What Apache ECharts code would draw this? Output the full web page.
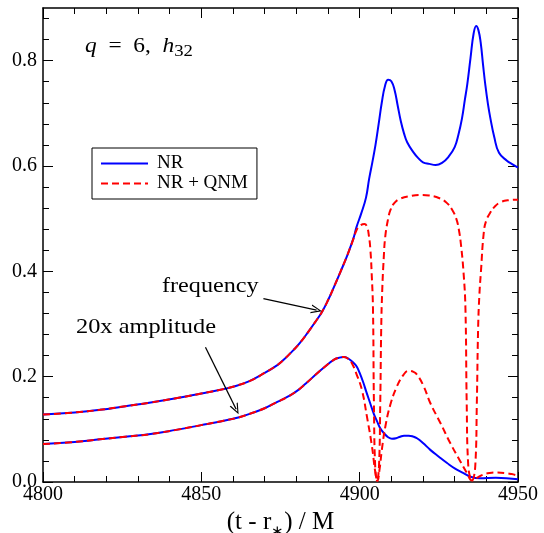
<!DOCTYPE html>
<html><head><meta charset="utf-8">
<script src="https://cdn.jsdelivr.net/npm/echarts@6/dist/echarts.min.js"></script>
<style>html,body{margin:0;padding:0;background:#fff}#c{width:544px;height:533px}</style>
</head><body><div id="c"></div>
<script>
// ---- tick values ----
const xMin = 4800, xMax = 4950, xStep = 50;
const yMajor = [0, 0.2, 0.4, 0.6, 0.8];
const yMinor = [0.04,0.08,0.12,0.16,0.24,0.28,0.32,0.36,0.44,0.48,0.52,0.56,0.64,0.68,0.72,0.76,0.84,0.88];

// ---- NR frequency ----
const nrFreqT = [4800,4810,4818,4826,4834,4842,4850,4856,4860,4865,4870,4874,4876,4879,4881,4884,4886,4888,4890,4892,4894,4896,4898,4899,4900.5,4902,4903,4904,4905,4906,4907,4908,4909,4910,4911,4912,4913,4914,4915,4917,4918.5,4920,4922,4924,4926,4928,4930,4931.2,4932.3,4933.2,4934,4935,4936,4936.8,4937.5,4938.2,4939,4939.7,4940.5,4941.3,4942.5,4944,4946.5,4948,4950];
const nrFreqV = [0.128,0.132,0.137,0.144,0.151,0.159,0.168,0.175,0.181,0.191,0.207,0.222,0.232,0.250,0.263,0.287,0.304,0.322,0.345,0.372,0.400,0.429,0.462,0.484,0.510,0.540,0.576,0.607,0.640,0.680,0.721,0.752,0.764,0.761,0.745,0.715,0.685,0.662,0.645,0.626,0.615,0.607,0.604,0.602,0.606,0.617,0.636,0.660,0.690,0.725,0.756,0.805,0.852,0.866,0.858,0.835,0.790,0.753,0.718,0.690,0.655,0.625,0.610,0.604,0.597];

// ---- NR + QNM frequency ----
const qnmFreqT = [4800,4810,4818,4826,4834,4842,4850,4856,4860,4865,4870,4874,4876,4879,4881,4884,4886,4888,4890,4892,4894,4896,4898,4899,4900,4901.5,4902.3,4902.9,4903.4,4903.8,4904.2,4904.5,4904.9,4905.5,4906.1,4906.5,4906.8,4907.1,4907.6,4908.1,4909,4909.7,4911,4912.8,4916,4919,4922,4925.5,4927.5,4929.2,4930.5,4931.3,4932,4932.8,4933.4,4933.8,4934.3,4935.5,4936.5,4937,4937.4,4937.8,4938.3,4939.2,4940,4941.3,4942.5,4944.4,4947,4950];
const qnmFreqV = [0.128,0.132,0.137,0.144,0.151,0.159,0.168,0.175,0.181,0.191,0.207,0.222,0.232,0.250,0.263,0.287,0.304,0.322,0.345,0.372,0.400,0.429,0.461,0.478,0.486,0.490,0.485,0.468,0.440,0.395,0.330,0.150,0.030,0.003,0.030,0.150,0.290,0.360,0.425,0.467,0.500,0.516,0.530,0.538,0.543,0.545,0.544,0.538,0.530,0.517,0.500,0.480,0.450,0.398,0.330,0.150,0.030,0.003,0.030,0.150,0.290,0.355,0.400,0.474,0.497,0.512,0.522,0.531,0.535,0.536];

// ---- NR 20x amplitude ----
const nrAmpT = [4800,4810,4818,4826,4834,4842,4850,4856,4862,4866,4870,4874,4877,4880,4883,4886.5,4889,4891.8,4893.5,4895,4896.5,4898.1,4899.1,4900,4901.2,4902,4903.3,4904.5,4905.5,4906.5,4907.6,4909,4910.2,4911.5,4912.8,4914,4915.5,4917,4918.1,4920,4922.3,4925,4927.6,4930,4932.8,4935,4938,4943,4950];
const nrAmpV = [0.072,0.076,0.081,0.086,0.091,0.099,0.108,0.115,0.123,0.131,0.140,0.152,0.161,0.172,0.187,0.206,0.219,0.232,0.236,0.2375,0.234,0.226,0.219,0.207,0.188,0.173,0.150,0.129,0.115,0.102,0.093,0.085,0.082,0.083,0.086,0.088,0.088,0.086,0.083,0.074,0.061,0.048,0.036,0.026,0.017,0.010,0.007,0.008,0.005];

// ---- NR + QNM 20x amplitude ----
const qnmAmpT = [4800,4810,4818,4826,4834,4842,4850,4856,4862,4866,4870,4874,4877,4880,4883,4886.5,4889,4891.8,4893.5,4895,4896.5,4897.5,4899,4900.7,4902.3,4903.9,4904.9,4905.6,4906.3,4907,4908.1,4909.7,4911.8,4913.9,4915.5,4917,4918.1,4920.2,4922.3,4925.5,4928.6,4931.8,4933.9,4935.5,4937,4939,4941,4943.4,4946,4948,4950];
const qnmAmpV = [0.072,0.076,0.081,0.086,0.091,0.099,0.108,0.115,0.123,0.131,0.140,0.152,0.161,0.172,0.187,0.206,0.219,0.232,0.236,0.2375,0.233,0.226,0.205,0.175,0.124,0.067,0.020,0.002,0.025,0.061,0.105,0.147,0.182,0.204,0.211,0.209,0.204,0.182,0.150,0.112,0.074,0.039,0.017,0.003,0.008,0.014,0.017,0.018,0.017,0.015,0.012];

// ---- annotation arrows (data coords: start, end) ----
const freqArrow = [[4869.6, 0.348], [4886.4, 0.3265]];
const ampArrow = [[4851.3, 0.256], [4861.0, 0.138]];

const zip = (t, v) => t.map((x, i) => [x, v[i]]);
const FF = 'Liberation Serif';
const arrowPath = 'path://M0,10 L5,0 L10,10 L8.6,10 L5,2.6 L1.4,10 Z';

function xAx(pos, labels) {
  return {
    type: 'value', position: pos, min: xMin, max: xMax, interval: xStep,
    axisLine: { show: true, onZero: false, lineStyle: { color: '#000', width: 1.5 } },
    axisTick: { show: true, inside: true, length: 10, lineStyle: { color: '#000', width: 1 } },
    minorTick: { show: true, splitNumber: 5, length: 6, lineStyle: { color: '#000', width: 1 } },
    axisLabel: labels ? { show: true, margin: 3, color: '#000', fontFamily: FF, fontSize: 20,
      formatter: v => String(v) } : { show: false },
    splitLine: { show: false }, minorSplitLine: { show: false }
  };
}
function yAx(pos, ticks, len, labels, line) {
  return {
    type: 'value', position: pos, min: 0, max: 0.9,
    axisLine: { show: line, onZero: false, lineStyle: { color: '#000', width: 1.5 } },
    axisTick: { show: true, inside: true, length: len, customValues: ticks, lineStyle: { color: '#000', width: 1 } },
    axisLabel: labels ? { show: true, customValues: ticks, margin: 6, color: '#000', fontFamily: FF, fontSize: 20,
      formatter: v => v.toFixed(1) } : { show: false },
    splitLine: { show: false }
  };
}

const xBottom = xAx('bottom', true);
xBottom.name = '{m|(t - r}{s|∗}{m|) / M}';
xBottom.nameLocation = 'middle';
xBottom.nameGap = 24;
xBottom.nameTextStyle = {
  color: '#000', fontFamily: FF, fontSize: 25,
  rich: {
    m: { fontFamily: FF, fontSize: 25, color: '#000', verticalAlign: 'top' },
    s: { fontFamily: FF, fontSize: 15, color: '#000', verticalAlign: 'top', padding: [15, 0, 0, 0] }
  }
};

const chart = echarts.init(document.getElementById('c'), null, { renderer: 'canvas' });
const lineBase = { type: 'line', symbol: 'none', showSymbol: false, smooth: 0.45, silent: true, xAxisIndex: 0, yAxisIndex: 0 };

chart.setOption({
  animation: false,
  backgroundColor: '#fff',
  textStyle: { fontFamily: FF, color: '#000' },
  grid: { left: 43, right: 26, top: 8, bottom: 51, containLabel: false, outerBoundsMode: 'none' },
  xAxis: [xBottom, xAx('top', false)],
  yAxis: [
    yAx('left', yMajor, 10, true, true),
    yAx('left', yMinor, 6, false, false),
    yAx('right', yMajor, 10, false, true),
    yAx('right', yMinor, 6, false, false)
  ],
  legend: {
    data: ['NR', 'NR + QNM'], orient: 'vertical', left: 92, top: 148,
    itemWidth: 47, itemHeight: 14, itemGap: 1,
    padding: [6, 9, 6, 8], borderColor: '#000', borderWidth: 1, backgroundColor: '#fff',
    selectedMode: false,
    itemStyle: { opacity: 0, borderWidth: 0 },
    textStyle: { fontFamily: FF, fontSize: 19, color: '#000', lineHeight: 18, padding: [0, 0, 0, 4] }
  },
  series: [
    Object.assign({}, lineBase, { name: 'NR', data: zip(nrFreqT, nrFreqV), lineStyle: { color: '#0000ff', width: 2 }, itemStyle: { color: '#0000ff' } }),
    Object.assign({}, lineBase, { name: 'NR', data: zip(nrAmpT, nrAmpV), lineStyle: { color: '#0000ff', width: 2 }, itemStyle: { color: '#0000ff' } }),
    Object.assign({}, lineBase, { name: 'NR + QNM', data: zip(qnmFreqT, qnmFreqV), lineStyle: { color: '#ff0000', width: 2, type: [7, 4] }, itemStyle: { color: '#ff0000' } }),
    Object.assign({}, lineBase, { name: 'NR + QNM', data: zip(qnmAmpT, qnmAmpV), lineStyle: { color: '#ff0000', width: 2, type: [7, 4] }, itemStyle: { color: '#ff0000' } }),
    {
      type: 'line', name: 'arrows', data: [], silent: true,
      markLine: {
        silent: true, symbol: ['none', arrowPath], symbolSize: [9, 11],
        lineStyle: { color: '#000', width: 1.3, type: 'solid' },
        label: { show: false }, emphasis: { disabled: true },
        data: [
          [{ coord: freqArrow[0] }, { coord: freqArrow[1] }],
          [{ coord: ampArrow[0] }, { coord: ampArrow[1] }]
        ]
      }
    }
  ],
  graphic: [
    {
      type: 'text', x: 85, y: 36.5, scaleX: 1.17, silent: true,
      style: {
        text: '{i|q}{r|\u2002=\u20026,\u2002}{i|h}{s|32}',
        verticalAlign: 'top', fill: '#000',
        rich: {
          i: { fontFamily: FF, fontSize: 20, fontStyle: 'italic', fill: '#000', verticalAlign: 'top' },
          r: { fontFamily: FF, fontSize: 20, fill: '#000', verticalAlign: 'top' },
          s: { fontFamily: FF, fontSize: 16, fill: '#000', verticalAlign: 'top', padding: [7, 0, 0, 0] }
        }
      }
    },
    {
      type: 'text', x: 162, y: 286.5, scaleX: 1.15, silent: true,
      style: { text: 'frequency', fontFamily: FF, fontSize: 21, fill: '#000', verticalAlign: 'middle' }
    },
    {
      type: 'text', x: 76, y: 327.5, scaleX: 1.16, silent: true,
      style: { text: '20x amplitude', fontFamily: FF, fontSize: 21, fill: '#000', verticalAlign: 'middle' }
    }
  ]
});
</script>
</body></html>
